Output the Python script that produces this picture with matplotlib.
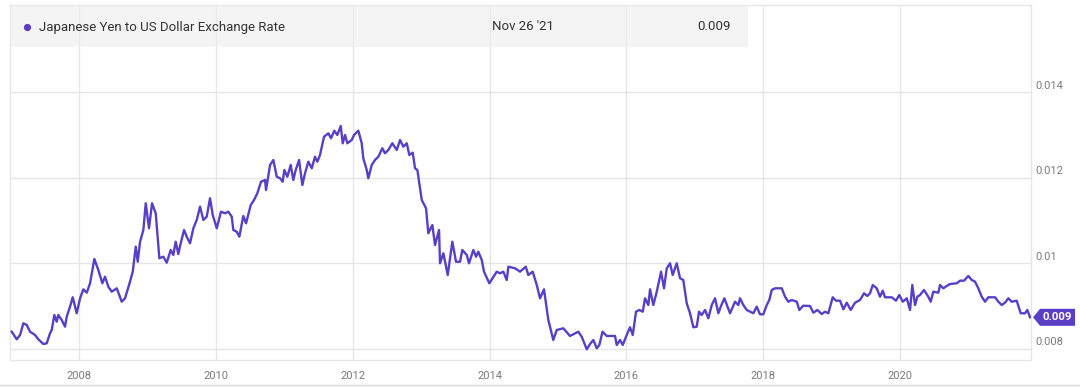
import matplotlib
matplotlib.use("Agg")
import matplotlib.pyplot as plt
import matplotlib.transforms as mtransforms
from matplotlib.patches import Polygon, Rectangle
from matplotlib.lines import Line2D

# ---------------- data ----------------
series_name = "Japanese Yen to US Dollar Exchange Rate"
last_date_label = "Nov 26 '21"
last_value_label = "0.009"

years = [
    2007.016, 2007.089, 2007.138, 2007.186, 2007.236, 2007.284, 2007.357, 2007.405, 2007.478, 2007.528,
    2007.576, 2007.601, 2007.639, 2007.674, 2007.697, 2007.747, 2007.795, 2007.820, 2007.868, 2007.908,
    2007.966, 2008.015, 2008.063, 2008.113, 2008.161, 2008.224, 2008.282, 2008.341, 2008.380, 2008.428,
    2008.478, 2008.551, 2008.624, 2008.672, 2008.731, 2008.785, 2008.829, 2008.858, 2008.892, 2008.940,
    2008.975, 2009.023, 2009.067, 2009.121, 2009.174, 2009.232, 2009.282, 2009.340, 2009.378, 2009.413,
    2009.451, 2009.486, 2009.535, 2009.574, 2009.622, 2009.671, 2009.720, 2009.769, 2009.817, 2009.866,
    2009.915, 2009.954, 2010.013, 2010.075, 2010.134, 2010.182, 2010.232, 2010.255, 2010.305, 2010.343,
    2010.401, 2010.441, 2010.510, 2010.558, 2010.606, 2010.660, 2010.719, 2010.733, 2010.792, 2010.840,
    2010.890, 2010.938, 2010.977, 2011.001, 2011.045, 2011.094, 2011.132, 2011.167, 2011.216, 2011.264,
    2011.303, 2011.351, 2011.401, 2011.449, 2011.483, 2011.522, 2011.581, 2011.644, 2011.683, 2011.731,
    2011.775, 2011.825, 2011.854, 2011.888, 2011.922, 2011.986, 2012.019, 2012.082, 2012.132, 2012.155,
    2012.205, 2012.228, 2012.278, 2012.326, 2012.375, 2012.433, 2012.472, 2012.521, 2012.579, 2012.644,
    2012.692, 2012.740, 2012.790, 2012.828, 2012.877, 2012.911, 2012.945, 2013.009, 2013.072, 2013.105,
    2013.164, 2013.203, 2013.262, 2013.276, 2013.325, 2013.389, 2013.456, 2013.510, 2013.569, 2013.602,
    2013.667, 2013.700, 2013.763, 2013.803, 2013.836, 2013.886, 2013.919, 2013.997, 2014.105, 2014.153,
    2014.202, 2014.251, 2014.275, 2014.373, 2014.446, 2014.529, 2014.567, 2014.631, 2014.690, 2014.738,
    2014.796, 2014.859, 2014.932, 2014.982, 2015.079, 2015.176, 2015.298, 2015.347, 2015.421, 2015.469,
    2015.517, 2015.567, 2015.605, 2015.651, 2015.713, 2015.834, 2015.859, 2015.907, 2015.947, 2016.005,
    2016.053, 2016.093, 2016.141, 2016.189, 2016.239, 2016.273, 2016.321, 2016.346, 2016.394, 2016.444,
    2016.507, 2016.550, 2016.590, 2016.638, 2016.677, 2016.736, 2016.784, 2016.832, 2016.882, 2016.930,
    2016.979, 2017.028, 2017.062, 2017.101, 2017.150, 2017.198, 2017.248, 2017.296, 2017.344, 2017.379,
    2017.432, 2017.515, 2017.588, 2017.636, 2017.661, 2017.709, 2017.759, 2017.856, 2017.905, 2017.953,
    2018.002, 2018.052, 2018.089, 2018.125, 2018.173, 2018.271, 2018.319, 2018.367, 2018.417, 2018.490,
    2018.528, 2018.586, 2018.684, 2018.733, 2018.791, 2018.855, 2018.904, 2018.952, 2019.016, 2019.064,
    2019.123, 2019.171, 2019.221, 2019.279, 2019.342, 2019.415, 2019.474, 2019.522, 2019.561, 2019.601,
    2019.659, 2019.707, 2019.747, 2019.780, 2019.878, 2019.941, 2019.989, 2020.039, 2020.098, 2020.146,
    2020.179, 2020.219, 2020.253, 2020.292, 2020.350, 2020.413, 2020.448, 2020.486, 2020.560, 2020.584,
    2020.633, 2020.682, 2020.731, 2020.829, 2020.877, 2020.935, 2020.998, 2021.048, 2021.096, 2021.144,
    2021.194, 2021.242, 2021.290, 2021.389, 2021.437, 2021.486, 2021.534, 2021.583, 2021.632, 2021.705,
    2021.764, 2021.827, 2021.860, 2021.900,
]

rates = [
    0.008404, 0.008226, 0.008327, 0.008600, 0.008560, 0.008404, 0.008327, 0.008226, 0.008117, 0.008133,
    0.008367, 0.008444, 0.008794, 0.008637, 0.008794, 0.008677, 0.008521, 0.008754, 0.008988, 0.009207,
    0.008834, 0.009184, 0.009394, 0.009315, 0.009534, 0.010102, 0.009845, 0.009534, 0.009688, 0.009455,
    0.009338, 0.009417, 0.009104, 0.009184, 0.009494, 0.009805, 0.010389, 0.010038, 0.010505, 0.010779,
    0.011402, 0.010818, 0.011402, 0.011169, 0.010118, 0.010155, 0.010015, 0.010312, 0.010195, 0.010505,
    0.010218, 0.010468, 0.010779, 0.010622, 0.010468, 0.010818, 0.011012, 0.011323, 0.011012, 0.011089,
    0.011519, 0.011129, 0.010818, 0.011206, 0.011169, 0.011206, 0.011089, 0.010779, 0.010739, 0.010622,
    0.011106, 0.010935, 0.011362, 0.011479, 0.011636, 0.011906, 0.011946, 0.011713, 0.012296, 0.012413,
    0.012023, 0.011986, 0.011906, 0.012180, 0.012023, 0.012296, 0.011946, 0.012180, 0.012413, 0.011829,
    0.012103, 0.012373, 0.012219, 0.012490, 0.012373, 0.012530, 0.012957, 0.013036, 0.012920, 0.013097,
    0.012997, 0.013207, 0.012803, 0.012997, 0.012803, 0.012880, 0.012997, 0.013097, 0.012803, 0.012453,
    0.012180, 0.011986, 0.012296, 0.012413, 0.012490, 0.012686, 0.012570, 0.012647, 0.012803, 0.012647,
    0.012880, 0.012724, 0.012803, 0.012530, 0.012584, 0.012219, 0.012180, 0.011479, 0.011285, 0.010702,
    0.010895, 0.010428, 0.010779, 0.010001, 0.010235, 0.009728, 0.010505, 0.010038, 0.010038, 0.010312,
    0.010195, 0.010001, 0.010312, 0.010155, 0.010272, 0.010078, 0.009805, 0.009534, 0.009805, 0.009768,
    0.009805, 0.009611, 0.009922, 0.009884, 0.009805, 0.009922, 0.009728, 0.009805, 0.009494, 0.009184,
    0.009394, 0.008677, 0.008210, 0.008444, 0.008483, 0.008304, 0.008404, 0.008287, 0.007993, 0.008117,
    0.008210, 0.008016, 0.008093, 0.008404, 0.008304, 0.008304, 0.008093, 0.008210, 0.008093, 0.008327,
    0.008507, 0.008327, 0.008871, 0.008911, 0.008871, 0.009184, 0.009027, 0.009394, 0.009027, 0.009338,
    0.009805, 0.009417, 0.009884, 0.010001, 0.009728, 0.010001, 0.009651, 0.009611, 0.009067, 0.008834,
    0.008507, 0.008521, 0.008871, 0.008794, 0.008911, 0.008717, 0.009027, 0.009184, 0.008834, 0.008988,
    0.009184, 0.008834, 0.009104, 0.009027, 0.009184, 0.009027, 0.008911, 0.008834, 0.008988, 0.008810,
    0.008810, 0.009027, 0.009144, 0.009378, 0.009417, 0.009417, 0.009221, 0.009104, 0.009144, 0.009104,
    0.008911, 0.009011, 0.009004, 0.008848, 0.008911, 0.008817, 0.008871, 0.008834, 0.009207, 0.009128,
    0.009128, 0.008927, 0.009081, 0.008911, 0.009081, 0.009144, 0.009301, 0.009238, 0.009301, 0.009494,
    0.009417, 0.009221, 0.009361, 0.009207, 0.009207, 0.009128, 0.009261, 0.009104, 0.009184, 0.008911,
    0.009494, 0.009027, 0.009221, 0.009261, 0.009378, 0.009221, 0.009104, 0.009338, 0.009315, 0.009494,
    0.009417, 0.009471, 0.009518, 0.009534, 0.009595, 0.009595, 0.009705, 0.009611, 0.009571, 0.009417,
    0.009221, 0.009104, 0.009207, 0.009207, 0.009104, 0.009027, 0.009081, 0.009184, 0.009104, 0.009128,
    0.008834, 0.008834, 0.008911, 0.008740,
]

x_ticks = [2008, 2010, 2012, 2014, 2016, 2018, 2020]
x_tick_labels = ["2008", "2010", "2012", "2014", "2016", "2018", "2020"]
y_ticks = [0.008, 0.010, 0.012, 0.014]
y_tick_labels = ["0.008", "0.01", "0.012", "0.014"]

# ---------------- style ----------------
LINE = "#5b3ec6"
GRID = "#e6e6e6"
TICK = "#7a7a7a"
FONT = ["Roboto", "DejaVu Sans"]
plt.rcParams["font.family"] = FONT

W, H = 1080, 387
fig = plt.figure(figsize=(W / 100, H / 100), dpi=100)
fig.patch.set_facecolor("white")
ax = fig.add_axes([10 / W, 1 - 360 / H, (1031 - 10) / W, (360 - 5) / H])
ax.set_facecolor("white")

ax.plot(years, rates, color=LINE, lw=1.7, solid_joinstyle="round", zorder=3)

ax.set_xlim(2006.991, 2021.914)
ax.set_ylim(0.007743, 0.016032)

ax.set_xticks(x_ticks)
ax.set_xticklabels(x_tick_labels)
ax.set_yticks(y_ticks)
ax.set_yticklabels(y_tick_labels)
ax.yaxis.tick_right()
ax.tick_params(axis="both", length=0, colors=TICK, labelsize=8)
ax.tick_params(axis="y", pad=3)
ax.tick_params(axis="x", pad=8)
for lab in ax.get_yticklabels():
    lab.set_verticalalignment("bottom")
    lab.set_transform(lab.get_transform() + mtransforms.ScaledTranslation(0, 1.5 / 100, fig.dpi_scale_trans))

ax.grid(True, color=GRID, lw=1.0, zorder=0)
ax.set_axisbelow(True)
for s in ax.spines.values():
    s.set_color(GRID)
    s.set_linewidth(1.0)

# legend box (semi-transparent, gridlines show through)
box = Rectangle((10 / W, 1 - 47 / H), (748 - 10) / W, 42 / H, transform=fig.transFigure,
                facecolor="#eeeeee", alpha=0.6, edgecolor="none", zorder=2)
fig.patches.append(box)
fig.add_artist(Line2D([27 / W], [1 - 27 / H], marker="o", markersize=4.2, color=LINE,
                      linestyle="none", transform=fig.transFigure, zorder=10))
fig.text(39 / W, 1 - 27 / H, series_name, fontsize=9.5, color="#333333", va="center", ha="left", zorder=10)
fig.text(492 / W, 1 - 27 / H, last_date_label, fontsize=9.5, color="#333333", va="center", ha="left", zorder=10)
fig.text(731 / W, 1 - 27 / H, last_value_label, fontsize=9.5, color="#333333", va="center", ha="right", zorder=10)

# last-value tag
lx, ly = years[-1], rates[-1]
tag_tr = fig.dpi_scale_trans + mtransforms.ScaledTranslation(lx, ly, ax.transData)
verts = [(0.03, 0.0), (0.10, 0.085), (0.45, 0.085), (0.45, -0.085), (0.10, -0.085)]
tag = Polygon(verts, closed=True, transform=tag_tr, facecolor=LINE, edgecolor="none",
              clip_on=False, zorder=11)
fig.add_artist(tag)
fig.text(0.275, 0.0, last_value_label, transform=tag_tr, fontsize=8.2, fontweight="bold",
         color="white", ha="center", va="center", zorder=12)

# bottom border line
fig.add_artist(Line2D([0, 1], [1 - 385 / H, 1 - 385 / H], color="#d8d8d8", lw=1.0,
                      transform=fig.transFigure))

fig.savefig("out.png", dpi=100, facecolor="white")
